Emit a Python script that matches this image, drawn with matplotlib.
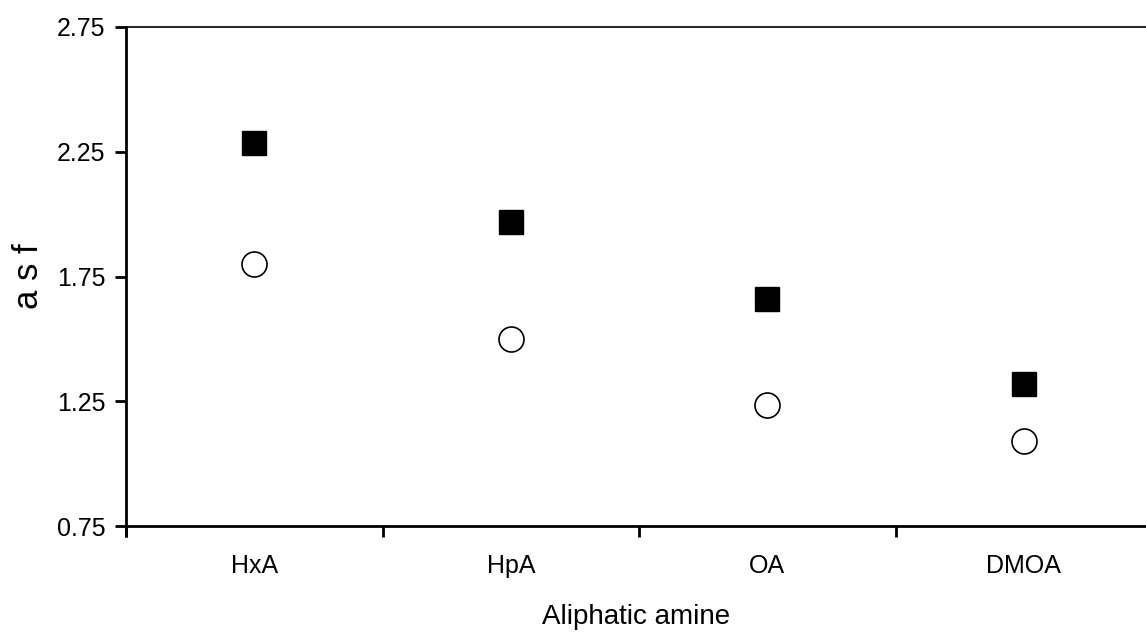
import matplotlib
matplotlib.use("Agg")
import matplotlib.pyplot as plt

# asymmetry factor per aliphatic amine, two series
amines = ["HxA", "HpA", "OA", "DMOA"]
asf_filled = [2.285, 1.97, 1.66, 1.32]
asf_open = [1.80, 1.50, 1.235, 1.09]
y_ticks = [0.75, 1.25, 1.75, 2.25, 2.75]

plt.rcParams["font.family"] = ["Liberation Sans", "DejaVu Sans"]

fig = plt.figure(figsize=(11.46, 6.32), dpi=100)
ax = fig.add_axes([126 / 1146, 1 - 526 / 632, 1 - 126 / 1146, 499 / 632])

x = list(range(1, len(amines) + 1))
ax.plot(x, asf_filled, linestyle="none", marker="s", markersize=17,
        markerfacecolor="black", markeredgecolor="black")
ax.plot(x, asf_open, linestyle="none", marker="o", markersize=18,
        markerfacecolor="white", markeredgecolor="black", markeredgewidth=1.2)

ax.set_xlim(0.5, 0.5 + 1020 / 256.5)
ax.set_ylim(0.75, 2.75)
ax.set_yticks(y_ticks)
ax.set_yticklabels(["%.2f" % v for v in y_ticks])
ax.set_xticks([i + 0.5 for i in range(len(amines))] + [0.5])
ax.set_xticklabels([])
ax.set_xticks(x, minor=True)
ax.set_xticklabels(amines, minor=True)
ax.tick_params(axis="x", which="minor", length=0, pad=20, labelsize=18)
ax.tick_params(axis="x", which="major", direction="out", length=8, width=2)
ax.tick_params(axis="y", direction="out", length=8, width=2, pad=7, labelsize=18)

ax.spines["right"].set_visible(False)
ax.spines["left"].set_linewidth(2)
ax.spines["bottom"].set_linewidth(2)
ax.spines["top"].set_linewidth(1.2)

ax.set_xlabel("Aliphatic amine", fontsize=20, labelpad=19)
ax.set_ylabel("a s f", fontsize=25, labelpad=8)

fig.savefig("out.png", dpi=100)
